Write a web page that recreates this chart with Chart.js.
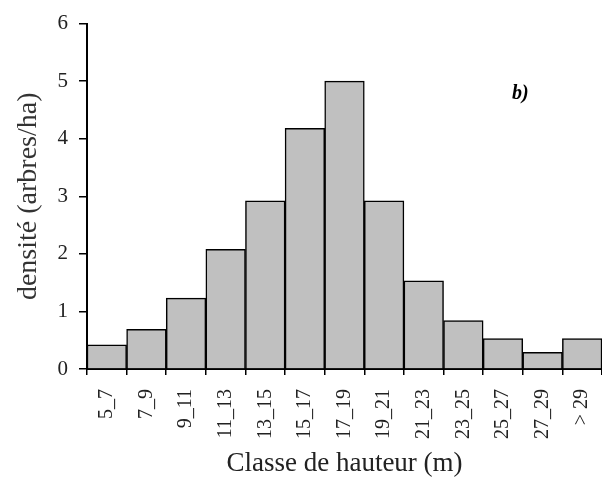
<!DOCTYPE html>
<html>
<head>
<meta charset="utf-8">
<script src="https://cdn.jsdelivr.net/npm/chart.js@4"></script>
<style>
  html, body { margin: 0; padding: 0; background: #fff; }
  #wrap { width: 602px; height: 500px; }
</style>
</head>
<body>
<div id="wrap"><canvas id="histo"></canvas></div>
<script>
// classes de hauteur (m) et densité (arbres/ha)
const classes = ['5_7', '7_9', '9_11', '11_13', '13_15', '15_17', '17_19', '19_21', '21_23', '23_25', '25_27', '27_29', '> 29'];
const densite = [0.42, 0.69, 1.23, 2.08, 2.92, 4.18, 5.0, 2.92, 1.53, 0.84, 0.53, 0.29, 0.53];
const yTicks = [0, 1, 2, 3, 4, 5, 6];

const serif = "'Liberation Serif', 'Times New Roman', serif";

// petit label "b)" dans le coin
const panelLabel = {
    id: 'panelLabel',
    afterDraw(chart) {
        const c = chart.ctx;
        c.save();
        c.font = "bold italic 20px " + serif;
        c.fillStyle = '#000';
        c.textAlign = 'left';
        c.textBaseline = 'middle';
        c.fillText('b)', 512, 94);
        c.restore();
    }
};

const ctx = document.getElementById('histo').getContext('2d');
new Chart(ctx, {
    type: 'bar',
    data: {
        labels: classes,
        datasets: [{
            data: densite,
            backgroundColor: '#c0c0c0',
            borderColor: '#000',
            borderWidth: 1.5,
            barPercentage: 1,
            categoryPercentage: 1
        }]
    },
    options: {
        responsive: true,
        maintainAspectRatio: false,
        animation: false,
        layout: { padding: { top: 23, right: 0, left: 0, bottom: 0 } },
        plugins: {
            legend: { display: false },
            tooltip: { enabled: false }
        },
        scales: {
            x: {
                offset: true,
                grid: { offset: true, drawOnChartArea: false, tickLength: 6, color: '#000', lineWidth: 1.5 },
                border: { color: '#000', width: 2 },
                ticks: {
                    minRotation: 90, maxRotation: 90,
                    color: '#222', padding: 14,
                    font: { family: serif, size: 20 }
                },
                title: {
                    display: true, text: 'Classe de hauteur (m)',
                    color: '#222', font: { family: serif, size: 27 },
                    padding: { top: 0, bottom: 20 }
                },
                afterFit(scale) {
                    scale.height = 131;
                    scale.paddingLeft = 0;
                    scale.paddingRight = 0;
                }
            },
            y: {
                min: 0, max: 6,
                afterBuildTicks(scale) { scale.ticks = yTicks.map(v => ({ value: v })); },
                grid: { drawOnChartArea: false, tickLength: 8, color: '#000', lineWidth: 1.5 },
                border: { color: '#000', width: 2 },
                ticks: {
                    color: '#222', padding: 11,
                    font: { family: serif, size: 21 }
                },
                title: {
                    display: true, text: 'densité (arbres/ha)',
                    color: '#333', font: { family: serif, size: 28 },
                    padding: { top: 12, bottom: 0 }
                },
                afterFit(scale) { scale.width = 87; }
            }
        }
    },
    plugins: [panelLabel]
});
</script>
</body>
</html>
